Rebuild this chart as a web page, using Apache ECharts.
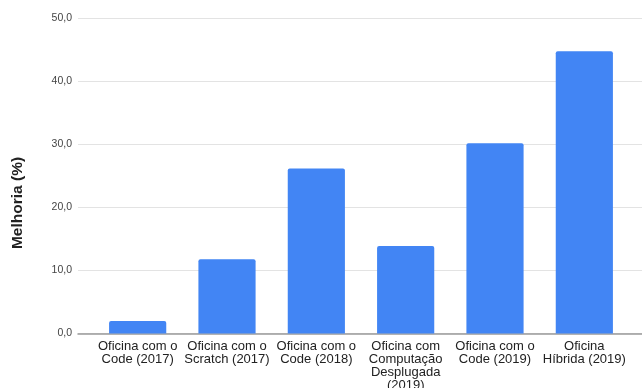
<!DOCTYPE html>
<html>
<head>
<meta charset="utf-8">
<script src="https://cdn.jsdelivr.net/npm/echarts@6/dist/echarts.min.js"></script>
<style>
html,body{margin:0;padding:0;background:#fff;}
#chart{width:642px;height:388px;}
</style>
</head>
<body>
<div id="chart"></div>
<script>
const categories = [
  "Oficina com o\nCode (2017)",
  "Oficina com o\nScratch (2017)",
  "Oficina com o\nCode (2018)",
  "Oficina com\nComputação\nDesplugada\n(2019)",
  "Oficina com o\nCode (2019)",
  "Oficina\nHíbrida (2019)"
];
const melhoria = [2.0, 11.8, 26.2, 13.9, 30.2, 44.8];
const yMin = 0, yMax = 50, yStep = 10;
const yTitle = "Melhoria (%)";

const FONT = "Arial, 'Liberation Sans', sans-serif";
const chart = echarts.init(document.getElementById('chart'), null, {renderer: 'canvas'});
chart.setOption({
  animation: false,
  backgroundColor: '#ffffff',
  grid: [
    {left: 78, right: 0, top: 18.5, bottom: 54.5, containLabel: false, outerBoundsMode: 'none'},
    {left: 93, right: 13, top: 18.5, bottom: 54.5, containLabel: false, outerBoundsMode: 'none'}
  ],
  xAxis: [
    {
      gridIndex: 0, type: 'category', data: [''],
      axisLine: {show: true, lineStyle: {color: '#9a9a9a', width: 1.5}},
      axisTick: {show: false}, axisLabel: {show: false}, splitLine: {show: false}
    },
    {
      gridIndex: 1, type: 'category', data: categories,
      axisLine: {show: false}, axisTick: {show: false},
      axisLabel: {
        interval: 0, color: '#222222', fontSize: 13, lineHeight: 12.7,
        fontFamily: FONT, margin: 7
      }
    }
  ],
  yAxis: [
    {
      gridIndex: 0, type: 'value', min: yMin, max: yMax, interval: yStep,
      axisLine: {show: false}, axisTick: {show: false},
      axisLabel: {
        color: '#444444', fontSize: 10.5, fontFamily: FONT, margin: 6,
        formatter: v => v.toFixed(1).replace('.', ',')
      },
      splitLine: {show: true, lineStyle: {color: '#e3e3e3', width: 1}}
    },
    {
      gridIndex: 1, type: 'value', min: yMin, max: yMax, interval: yStep,
      show: false, splitLine: {show: false}
    }
  ],
  graphic: [{
    type: 'text',
    x: 18, y: 203,
    rotation: Math.PI / 2,
    style: {
      text: yTitle, fill: '#222222', font: 'bold 15.5px ' + FONT,
      align: 'center', verticalAlign: 'middle'
    }
  }],
  series: [{
    type: 'bar', xAxisIndex: 1, yAxisIndex: 1,
    data: melhoria, barWidth: '64%',
    itemStyle: {color: '#4285F4', borderRadius: [2, 2, 0, 0]}
  }]
});
</script>
</body>
</html>
